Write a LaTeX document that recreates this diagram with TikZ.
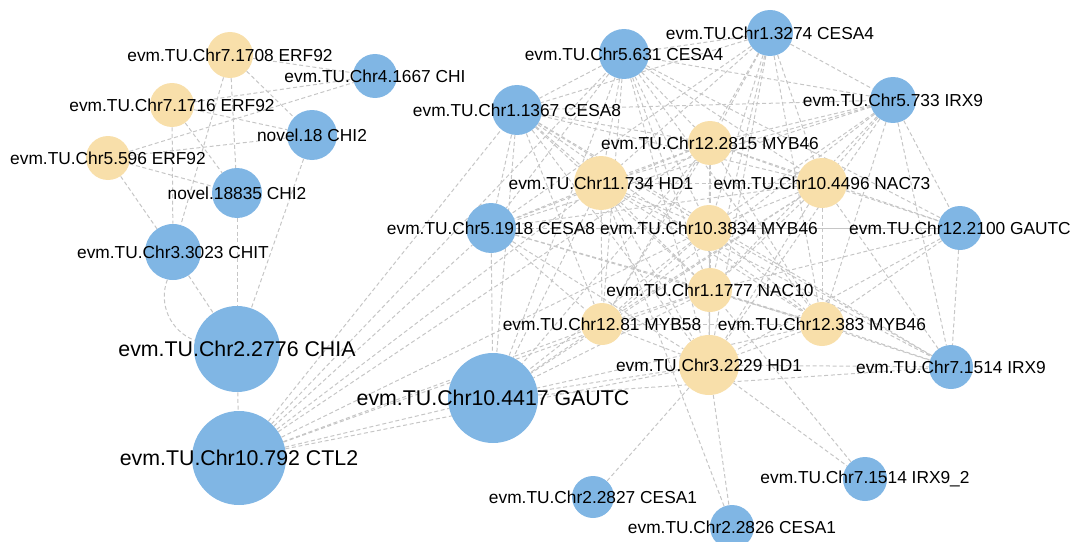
\documentclass[tikz,border=0pt]{standalone}
\usepackage{fontspec}
\setmainfont{Liberation Sans}
\usetikzlibrary{backgrounds}

\definecolor{nodeblue}{RGB}{128,182,228}
\definecolor{nodegold}{RGB}{248,223,170}
\definecolor{edgegray}{RGB}{198,198,198}

\begin{document}
\begin{tikzpicture}[x=0.75pt,y=-0.75pt,
	struct/.style={circle,fill=nodeblue,inner sep=0pt,minimum size=#1*1.5pt},
	tf/.style={circle,fill=nodegold,inner sep=0pt,minimum size=#1*1.5pt},
	lbl/.style={font=\fontsize{13}{15}\selectfont,inner sep=0pt},
	biglbl/.style={font=\fontsize{16}{19}\selectfont,inner sep=0pt},
	link/.style={draw=edgegray,line width=0.75pt,dash pattern=on 3pt off 2pt},
	firm/.style={draw=edgegray,line width=0.75pt}]
	\useasboundingbox (0,0) rectangle (1070,542);
	\clip (0,0) rectangle (1070,542);

	% chitinase module with the ERF92 genes
	\node[tf=23] (n1708) at (230,55) {};
	\node[struct=22] (n1667) at (375,76) {};
	\node[tf=22] (n1716) at (172,105) {};
	\node[struct=25] (n18) at (312,135) {};
	\node[tf=22] (n596) at (108,158) {};
	\node[struct=25] (n18835) at (237,193) {};
	\node[struct=28] (n3023) at (173,252) {};
	\node[struct=43] (n2776) at (237,349) {};
	\node[struct=47] (n792) at (239,458) {};

	% cell wall module
	\node[struct=23] (n3274) at (770,33) {};
	\node[struct=25] (n631) at (624,54) {};
	\node[struct=25] (n1367) at (517,110) {};
	\node[struct=23] (n733) at (893,100) {};
	\node[tf=22] (n2815) at (710,143) {};
	\node[tf=27] (n734) at (601,183) {};
	\node[tf=25] (n4496) at (822,183) {};
	\node[struct=25] (n1918) at (491,228) {};
	\node[tf=23] (n3834) at (709,228) {};
	\node[struct=22] (n2100) at (960,228) {};
	\node[tf=22] (n1777) at (710,290) {};
	\node[tf=21] (n81) at (602,324) {};
	\node[tf=22] (n383) at (822,324) {};
	\node[tf=30] (n2229) at (709,365) {};
	\node[struct=22] (n1514) at (951,367) {};
	\node[struct=45] (n4417) at (493,398) {};
	\node[struct=22] (n1514b) at (865,479) {};
	\node[struct=21] (n2827) at (593,497) {};
	\node[struct=22] (n2826) at (732,527) {};

	\begin{pgfonlayer}{background}
	\foreach \a/\b in {n1708/n1667,n1708/n18,n1708/n3023,n1708/n18835,
		n1716/n1667,n1716/n18,n1716/n3023,n1716/n18835,
		n596/n1667,n596/n18,n596/n18835,n596/n3023,
		n18/n2776,n18835/n2776,n3023/n2776,n2776/n792,
		n792/n1367,n792/n631,n792/n1918,n792/n734,n792/n2815,
		n792/n3834,n792/n1777,n792/n81,n792/n2229,n792/n4417}
		\draw[link] (\a) -- (\b);
	\draw[link] (n3023) to[bend right=45] (n2776);
	\foreach \a/\b in {n3274/n631,n3274/n1367,n3274/n733,n3274/n2815,n3274/n734,
		n3274/n4496,n3274/n1918,n3274/n3834,n3274/n1777,n3274/n81,n3274/n383,n3274/n2229,
		n631/n1367,n631/n733,n631/n2815,n631/n734,n631/n4496,n631/n1918,n631/n3834,
		n631/n1777,n631/n81,n631/n383,n631/n2229,n631/n4417,n631/n2100,
		n1367/n733,n1367/n2815,n1367/n734,n1367/n4496,n1367/n1918,n1367/n3834,
		n1367/n1777,n1367/n81,n1367/n383,n1367/n2229,n1367/n4417,n1367/n1514,
		n733/n2815,n733/n734,n733/n4496,n733/n1918,n733/n3834,n733/n2100,
		n733/n1777,n733/n81,n733/n383,n733/n2229,n733/n1514,
		n2815/n734,n2815/n4496,n2815/n1918,n2815/n3834,n2815/n1777,n2815/n81,
		n2815/n383,n2815/n2229,n2815/n4417,n2815/n2100,
		n734/n4496,n734/n1918,n734/n3834,n734/n1777,n734/n81,n734/n383,
		n734/n2229,n734/n4417,n734/n1514,
		n4496/n1918,n4496/n3834,n4496/n2100,n4496/n1777,n4496/n81,n4496/n383,
		n4496/n2229,n4496/n1514,n4496/n4417,
		n1918/n3834,n1918/n1777,n1918/n81,n1918/n383,n1918/n2229,n1918/n4417,
		n3834/n81,n3834/n383,n3834/n2229,n3834/n1514,n3834/n4417,
		n2100/n383,n2100/n2229,n2100/n1514,n2100/n1777,
		n1777/n81,n1777/n383,n1777/n1514,n1777/n4417,
		n81/n383,n81/n2229,n81/n4417,
		n383/n2229,n383/n1514,n383/n4417,
		n2229/n1514,n2229/n4417,n2229/n1514b,n2229/n2827,n2229/n2826,
		n4417/n1514,n1514b/n1777,n2826/n734}
		\draw[link] (\a) -- (\b);
	\draw[firm] (n3834) -- (n2100);
	\draw[firm] (n3834) -- (n1777);
	\draw[firm] (n1777) -- (n2229);
	\end{pgfonlayer}

	% gene labels on top
	\node[lbl] (t1708) at (n1708) {evm.TU.Chr7.1708 ERF92};
	\node[lbl] (t1667) at (n1667) {evm.TU.Chr4.1667 CHI};
	\node[lbl] (t1716) at (n1716) {evm.TU.Chr7.1716 ERF92};
	\node[lbl] (t18) at (n18) {novel.18 CHI2};
	\node[lbl] (t596) at (n596) {evm.TU.Chr5.596 ERF92};
	\node[lbl] (t18835) at (n18835) {novel.18835 CHI2};
	\node[lbl] (t3023) at (n3023) {evm.TU.Chr3.3023 CHIT};
	\node[biglbl] (t2776) at (n2776) {evm.TU.Chr2.2776 CHIA};
	\node[biglbl] (t792) at (n792) {evm.TU.Chr10.792 CTL2};
	\node[lbl] (t3274) at (n3274) {evm.TU.Chr1.3274 CESA4};
	\node[lbl] (t631) at (n631) {evm.TU.Chr5.631 CESA4};
	\node[lbl] (t1367) at (n1367) {evm.TU.Chr1.1367 CESA8};
	\node[lbl] (t733) at (n733) {evm.TU.Chr5.733 IRX9};
	\node[lbl] (t2815) at (n2815) {evm.TU.Chr12.2815 MYB46};
	\node[lbl] (t734) at (n734) {evm.TU.Chr11.734 HD1};
	\node[lbl] (t4496) at (n4496) {evm.TU.Chr10.4496 NAC73};
	\node[lbl] (t1918) at (n1918) {evm.TU.Chr5.1918 CESA8};
	\node[lbl] (t3834) at (n3834) {evm.TU.Chr10.3834 MYB46};
	\node[lbl] (t2100) at (n2100) {evm.TU.Chr12.2100 GAUTC};
	\node[lbl] (t1777) at (n1777) {evm.TU.Chr1.1777 NAC10};
	\node[lbl] (t81) at (n81) {evm.TU.Chr12.81 MYB58};
	\node[lbl] (t383) at (n383) {evm.TU.Chr12.383 MYB46};
	\node[lbl] (t2229) at (n2229) {evm.TU.Chr3.2229 HD1};
	\node[lbl] (t1514) at (n1514) {evm.TU.Chr7.1514 IRX9};
	\node[biglbl] (t4417) at (n4417) {evm.TU.Chr10.4417 GAUTC};
	\node[lbl] (t1514b) at (n1514b) {evm.TU.Chr7.1514 IRX9\_2};
	\node[lbl] (t2827) at (n2827) {evm.TU.Chr2.2827 CESA1};
	\node[lbl] (t2826) at (n2826) {evm.TU.Chr2.2826 CESA1};
\end{tikzpicture}
\end{document}
